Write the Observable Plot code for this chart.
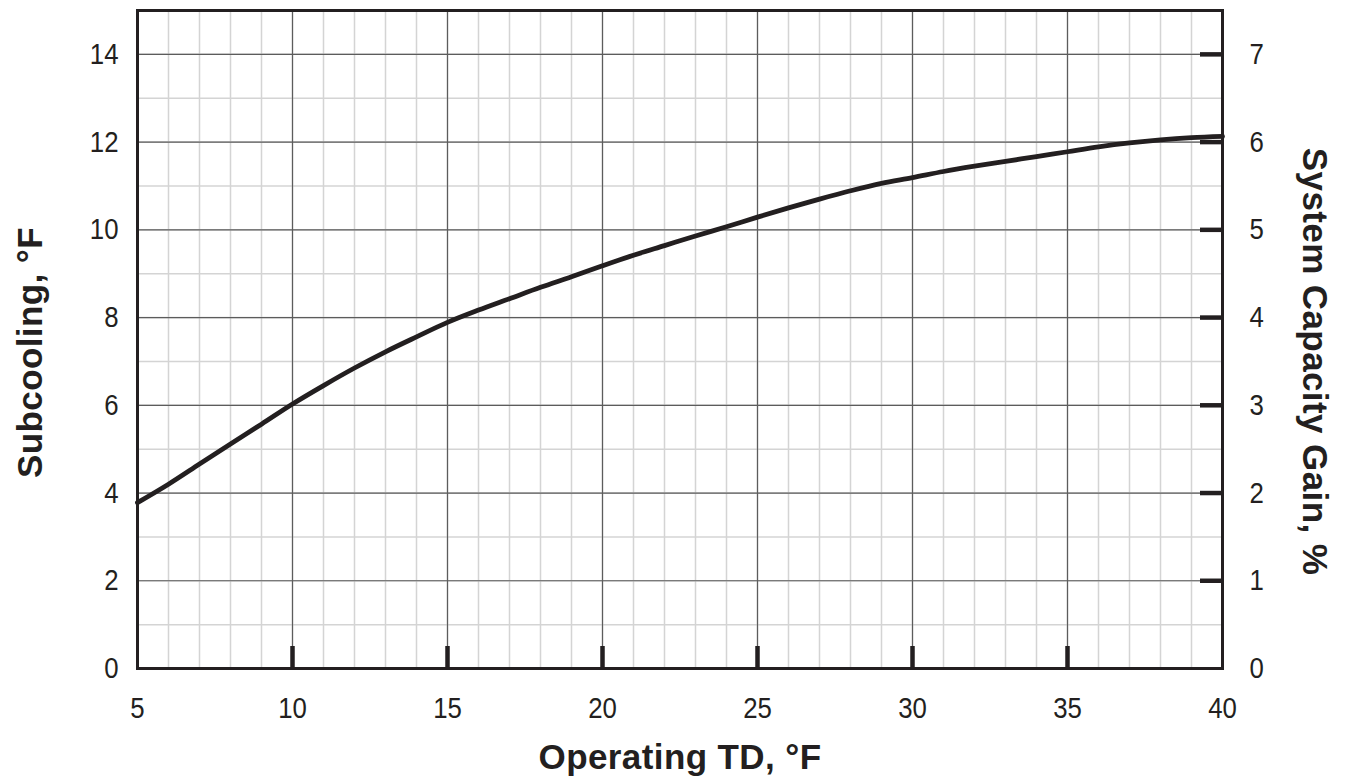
<!DOCTYPE html>
<html>
<head>
<meta charset="utf-8">
<script src="https://cdn.jsdelivr.net/npm/d3@7"></script>
<script src="https://cdn.jsdelivr.net/npm/@observablehq/plot@0.6"></script>
<style>
  html, body { margin: 0; padding: 0; background: #fff; }
  svg { display: block; }
  .ttl text { letter-spacing: 0.4px; }
</style>
</head>
<body>
<div id="chart"></div>
<script>
// Operating TD (°F)
const operatingTD = [5, 6, 7, 8, 9, 10, 11, 12, 13, 14, 15, 16, 17, 18, 19, 20, 21, 22, 23, 24, 25, 26, 27, 28, 29, 30, 31, 32, 33, 34, 35, 36, 37, 38, 39, 40];
// Subcooling (°F)
const subcooling = [3.78, 4.2, 4.66, 5.12, 5.57, 6.03, 6.45, 6.85, 7.22, 7.56, 7.89, 8.17, 8.43, 8.69, 8.93, 9.18, 9.42, 9.64, 9.86, 10.07, 10.29, 10.5, 10.7, 10.89, 11.06, 11.19, 11.33, 11.45, 11.56, 11.67, 11.78, 11.89, 11.98, 12.05, 12.1, 12.13];

// tick labels
const xTicks = [5, 10, 15, 20, 25, 30, 35, 40];
const yTicks = [0, 2, 4, 6, 8, 10, 12, 14];
const bottomInnerTicks = [10, 15, 20, 25, 30, 35];
const rightInnerTicks = [2, 4, 6, 8, 10, 12, 14];
const minorX = d3.range(5, 41, 1);
const minorY = d3.range(0, 16, 1);

const xTitle = "Operating TD, °F";
const yTitle = "Subcooling, °F";
const y2Title = "System Capacity Gain, %";

const data = operatingTD.map((x, i) => ({x, y: subcooling[i]}));

const W = 1348, H = 784;
const mL = 137, mR = 126, mT = 10, mB = 116;
const innerW = W - mL - mR, innerH = H - mT - mB;
const ink = "#231f20";

const chart = Plot.plot({
  width: W,
  height: H,
  marginLeft: mL,
  marginRight: mR,
  marginTop: mT,
  marginBottom: mB,
  style: {fontFamily: "'Liberation Sans', Arial, Helvetica, sans-serif", color: ink, background: "#fff", overflow: "visible"},
  x: {domain: [5, 40]},
  y: {domain: [0, 15]},
  marks: [
    Plot.ruleX(minorX, {x: d => d, stroke: "#d4d4d4", strokeWidth: 1.5}),
    Plot.ruleY(minorY, {y: d => d, stroke: "#d4d4d4", strokeWidth: 1.5}),
    Plot.ruleX(xTicks, {x: d => d, stroke: "#5c5c5c", strokeWidth: 1.2}),
    Plot.ruleY(yTicks, {y: d => d, stroke: "#5c5c5c", strokeWidth: 1.2}),
    Plot.line(data, {x: "x", y: "y", stroke: ink, strokeWidth: 4.8, curve: "catmull-rom"}),
    Plot.tickX(bottomInnerTicks, {x: d => d, stroke: ink, strokeWidth: 4.5, insetTop: innerH - 22}),
    Plot.tickY(rightInnerTicks, {y: d => d, stroke: ink, strokeWidth: 4.5, insetLeft: innerW - 22}),
    Plot.frame({stroke: ink, strokeWidth: 3}),
    Plot.axisX({ticks: xTicks, tickSize: 0, tickPadding: 28, fontSize: 30, label: null, tickFormat: d => d}),
    Plot.axisY({ticks: yTicks, anchor: "left", tickSize: 0, tickPadding: 19, fontSize: 30, label: null, tickFormat: d => d}),
    Plot.axisY({ticks: yTicks, anchor: "right", tickSize: 0, tickPadding: 27, fontSize: 30, label: null, tickFormat: d => d / 2}),
    Plot.text([xTitle], {text: d => d, frameAnchor: "bottom", dy: 89, fontSize: 35, fontWeight: "bold", fill: ink, textAnchor: "middle", lineAnchor: "middle", className: "ttl"}),
    Plot.text([yTitle], {text: d => d, frameAnchor: "left", dx: -107, dy: 13, rotate: -90, fontSize: 35, fontWeight: "bold", fill: ink, textAnchor: "middle", lineAnchor: "middle", className: "ttl"}),
    Plot.text([y2Title], {text: d => d, frameAnchor: "right", dx: 92, dy: 22, rotate: 90, fontSize: 35, fontWeight: "bold", fill: ink, textAnchor: "middle", lineAnchor: "middle", className: "ttl"})
  ]
});
// condense tick labels horizontally to match the narrow face of the reference
d3.select(chart).selectAll('g[aria-label$="tick label"] text').each(function () {
  const t = this.getAttribute("transform") || "";
  this.setAttribute("transform", t + " scale(0.86,1)");
});
document.getElementById("chart").appendChild(chart);
</script>
</body>
</html>
